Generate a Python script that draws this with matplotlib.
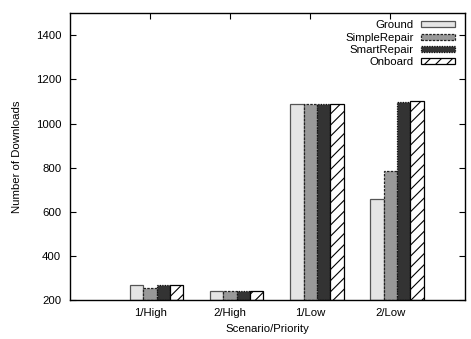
import matplotlib
matplotlib.use("Agg")
import matplotlib.pyplot as plt
import numpy as np

plt.rcParams['font.family'] = ['Liberation Sans', 'DejaVu Sans']
plt.rcParams['hatch.linewidth'] = 0.8

categories = ["1/High", "2/High", "1/Low", "2/Low"]
series = ["Ground", "SimpleRepair", "SmartRepair", "Onboard"]
ground = [268, 242, 1088, 660]
simple_repair = [256, 240, 1088, 786]
smart_repair = [266, 240, 1088, 1100]
onboard = [266, 242, 1088, 1102]
values = [ground, simple_repair, smart_repair, onboard]

styles = [
    dict(facecolor="#e5e5e5", edgecolor="#555555", linestyle="-", hatch=None),
    dict(facecolor="#999999", edgecolor="#222222", linestyle=(0, (2, 1)), hatch=None),
    dict(facecolor="#333333", edgecolor="#111111", linestyle=(0, (1, 1)), hatch=None),
    dict(facecolor="white", edgecolor="black", linestyle="-", hatch="///"),
]

FS = 8.2

fig = plt.figure(figsize=(4.71, 3.39), dpi=100)
ax = fig.add_axes([0.1476, 0.115, 0.9883 - 0.1476, 0.9608 - 0.115])

x = np.arange(len(categories))
w = 1 / 6
for i, (name, vals, st) in enumerate(zip(series, values, styles)):
    ax.bar(x + (i - 1) * w, np.array(vals) - 200, width=w, bottom=200,
           facecolor=st["facecolor"], edgecolor=st["edgecolor"],
           linestyle=st["linestyle"], hatch=st["hatch"], linewidth=0.9,
           label=name, zorder=2)

ax.set_xlim(-1.006, 3.94)
ax.set_ylim(200, 1500)
ax.set_xticks(x)
ax.set_xticklabels(categories)
ax.set_yticks(np.arange(200, 1401, 200))
ax.tick_params(direction="in", length=4, width=0.8, labelsize=FS, top=True, right=True, pad=6)
for s in ax.spines.values():
    s.set_linewidth(1.0)
ax.set_xlabel("Scenario/Priority", fontsize=FS, labelpad=4)
ax.set_ylabel("Number of Downloads", fontsize=FS, labelpad=10)

leg = ax.legend(loc="upper right", bbox_to_anchor=(0.993, 1.003), frameon=False,
                markerfirst=False, fontsize=FS, handlelength=3.0, handleheight=0.45,
                labelspacing=0.2, handletextpad=0.6, borderpad=0.2)

fig.savefig("out.png", dpi=100)
